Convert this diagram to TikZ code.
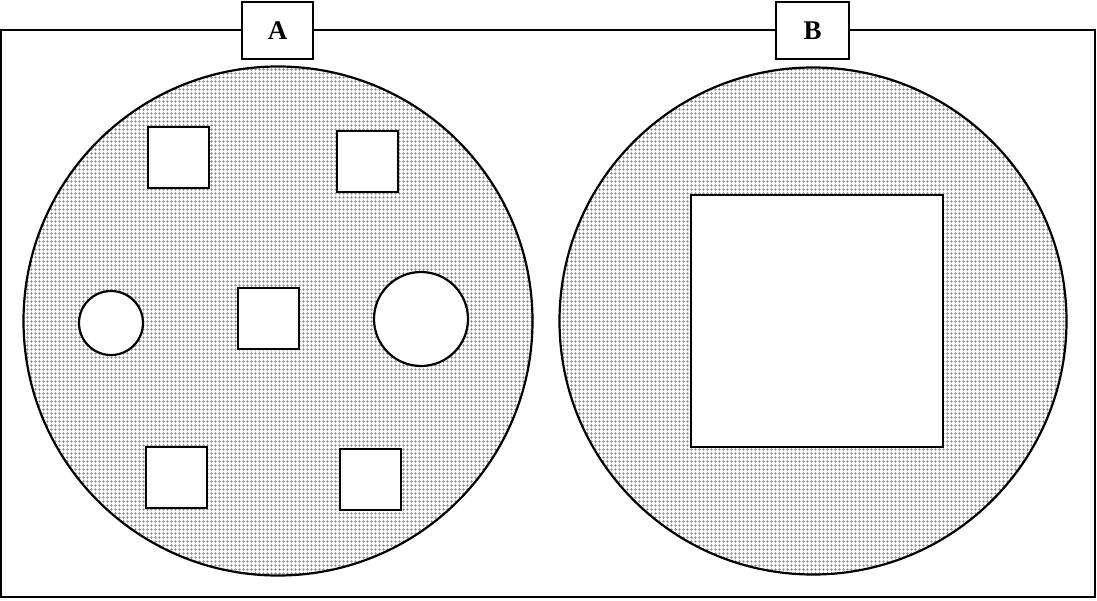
\documentclass[tikz,border=0pt]{standalone}
\usepackage{fontspec}
\setmainfont{Liberation Serif}
\usetikzlibrary{patterns.meta}
\begin{document}
\begin{tikzpicture}[x=1pt,y=-1pt,line width=2.2pt,
  dotfill/.style={fill=white,postaction={pattern={Hatch[angle=0,distance=4pt,line width=0.6pt]},pattern color=black!50},postaction={draw=black}},
  hole/.style={draw=black,fill=white},
  labelbox/.style={draw=black,fill=white,line width=2.2pt,minimum width=71pt,minimum height=57pt,inner sep=0pt,font=\bfseries\fontsize{27}{30}\selectfont}]
\useasboundingbox (0,0) rectangle (1097,600);
\draw (1,30) rectangle (1095,597);
\path[dotfill] (278,321) circle[radius=254.5];
\path[dotfill] (813,321) circle[radius=253.5];
% left holes
\draw[hole] (148,127) rectangle (209,188);
\draw[hole] (337,131) rectangle (398,192);
\draw[hole] (238,288) rectangle (299,349);
\draw[hole] (146,447) rectangle (207,508);
\draw[hole] (340,449) rectangle (401,510);
\draw[hole] (111,323) circle[radius=32];
\draw[hole] (421,319) circle[radius=47];
% right hole
\draw[hole] (691,195) rectangle (943,447);
% labels
\node[labelbox] (A) at (277.5,30.5) {A};
\node[labelbox,minimum width=73pt] (B) at (812.5,30.5) {B};
\end{tikzpicture}
\end{document}
